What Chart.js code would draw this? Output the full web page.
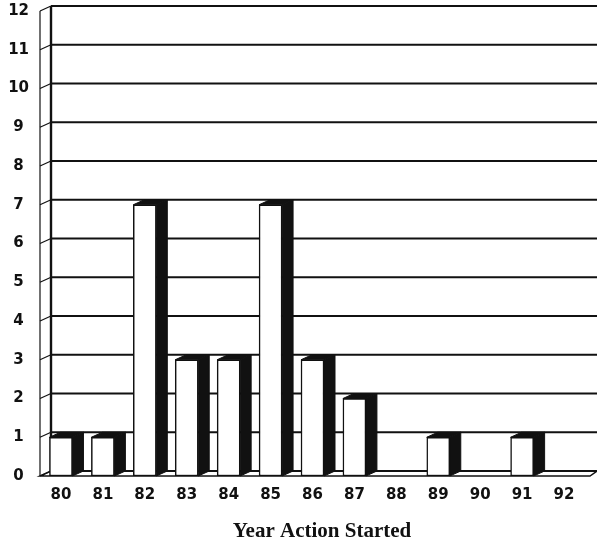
<!DOCTYPE html>
<html>
<head>
<meta charset="utf-8">
<script src="https://cdn.jsdelivr.net/npm/chart.js@4/dist/chart.umd.min.js"></script>
<style>
  html, body { margin: 0; padding: 0; background: #fff; }
  #c { display: block; }
</style>
</head>
<body>
<canvas id="c" width="597" height="544"></canvas>
<script>
// Number of actions started per year
const years = ['80', '81', '82', '83', '84', '85', '86', '87', '88', '89', '90', '91', '92'];
const actionsStarted = [1, 1, 7, 3, 3, 7, 3, 2, 0, 1, 0, 1, 0];
const yMin = 0;
const yMax = 12;
const xTitle = 'Year Action Started';

// Depth of the 3-D box: how far the back wall sits right of / above the front plane
const DEPTH_X = 11;
const DEPTH_Y = 5;
const INK = '#111';

function seg(ctx, x1, y1, x2, y2, w) {
  ctx.lineWidth = w;
  ctx.beginPath();
  ctx.moveTo(x1, y1);
  ctx.lineTo(x2, y2);
  ctx.stroke();
}

function poly(ctx, pts) {
  ctx.beginPath();
  ctx.moveTo(pts[0][0], pts[0][1]);
  for (let i = 1; i < pts.length; i++) ctx.lineTo(pts[i][0], pts[i][1]);
  ctx.closePath();
}

// Walls, floor and shaded bar faces for the 3-D look
const box3d = {
  id: 'box3d',
  beforeDatasetsDraw(chart) {
    const { ctx, chartArea: a, scales: { y } } = chart;
    const W = chart.width;
    const y0 = y.getPixelForValue(yMin);
    const yTop = y.getPixelForValue(yMax);
    ctx.save();
    ctx.strokeStyle = INK;
    ctx.lineCap = 'butt';

    // floor slab
    poly(ctx, [[a.left, y0], [W - 7, y0], [W, y0 - DEPTH_Y], [a.left + DEPTH_X, y0 - DEPTH_Y]]);
    ctx.lineWidth = 1.5;
    ctx.stroke();

    // back-wall gridlines and the matching strokes on the left wall
    y.ticks.forEach(t => {
      const pf = y.getPixelForValue(t.value);
      const pb = pf - DEPTH_Y;
      seg(ctx, a.left + DEPTH_X, pb, W, pb, 1.8);
      seg(ctx, a.left, pf, a.left + DEPTH_X, pb, 1.2);
    });

    // left wall edges
    seg(ctx, a.left, yTop, a.left, y0, 1.2);
    seg(ctx, a.left + DEPTH_X, yTop - DEPTH_Y, a.left + DEPTH_X, y0 - DEPTH_Y, 2.4);
    ctx.restore();
  },
  afterDatasetsDraw(chart) {
    const { ctx } = chart;
    const values = chart.data.datasets[0].data;
    const meta = chart.getDatasetMeta(0);
    ctx.save();
    ctx.fillStyle = INK;
    ctx.strokeStyle = INK;
    ctx.lineWidth = 1;
    meta.data.forEach((bar, i) => {
      if (!values[i]) return;
      const { x, y: top, base, width } = bar.getProps(['x', 'y', 'base', 'width'], true);
      const l = x - width / 2;
      const r = x + width / 2;
      // right-hand side face
      poly(ctx, [[r, top], [r + DEPTH_X, top - DEPTH_Y], [r + DEPTH_X, base - DEPTH_Y], [r, base]]);
      ctx.fill();
      ctx.stroke();
      // top face
      poly(ctx, [[l, top], [l + DEPTH_X, top - DEPTH_Y], [r + DEPTH_X, top - DEPTH_Y], [r, top]]);
      ctx.fill();
      ctx.stroke();
    });
    ctx.restore();
  },
  afterDraw(chart) {
    const { ctx, chartArea: a } = chart;
    ctx.save();
    ctx.fillStyle = INK;
    ctx.font = 'bold 21px "Liberation Serif", serif';
    ctx.textAlign = 'center';
    ctx.textBaseline = 'middle';
    ctx.fillText(xTitle, (a.left + a.right + DEPTH_X) / 2 + 4, 532);
    ctx.restore();
  }
};

const tickFont = { family: '"DejaVu Sans", sans-serif', size: 15, weight: 'bold' };

new Chart(document.getElementById('c'), {
  type: 'bar',
  data: {
    labels: years,
    datasets: [{
      data: actionsStarted,
      backgroundColor: '#fff',
      borderColor: INK,
      borderWidth: 1.5,
      borderSkipped: false,
      barThickness: 23
    }]
  },
  options: {
    responsive: false,
    animation: false,
    devicePixelRatio: 1,
    layout: { padding: { top: 11, right: 12, left: 0, bottom: 0 } },
    plugins: { legend: { display: false }, tooltip: { enabled: false } },
    scales: {
      x: {
        grid: { display: false, drawTicks: false },
        border: { display: false },
        ticks: { color: INK, font: tickFont, padding: 10, maxRotation: 0 },
        afterFit(scale) { scale.height = 68; }
      },
      y: {
        min: yMin,
        max: yMax,
        grid: { display: false, drawTicks: false },
        border: { display: false },
        ticks: { stepSize: 1, color: INK, font: tickFont, padding: 11, crossAlign: 'center' },
        afterFit(scale) {
          scale.width = 40;
          scale.paddingTop = 0;
          scale.paddingBottom = 0;
        }
      }
    }
  },
  plugins: [box3d]
});
</script>
</body>
</html>
